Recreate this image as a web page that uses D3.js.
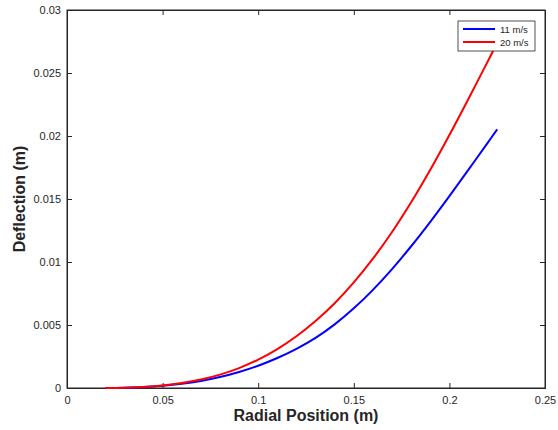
<!DOCTYPE html>
<html>
<head>
<meta charset="utf-8">
<script src="https://cdn.jsdelivr.net/npm/d3@7"></script>
<style>
  body { margin: 0; background: #fff; }
  text { font-family: "Liberation Sans", Arial, sans-serif; fill: #262626; }
</style>
</head>
<body>
<svg width="558" height="430"></svg>
<script>
// radial positions (m)
const radius = [0.02, 0.03, 0.04, 0.05, 0.06, 0.07, 0.08, 0.09, 0.10, 0.11, 0.12,
  0.13, 0.14, 0.15, 0.16, 0.17, 0.18, 0.19, 0.20, 0.21, 0.22, 0.225];
// deflection (m) per wind speed
const defl11 = [0, 0.00002, 0.00007, 0.00017, 0.00033, 0.00056, 0.00087, 0.00127, 0.00177, 0.00238, 0.00311,
  0.00398, 0.00505, 0.00632, 0.00779, 0.00944, 0.01125, 0.01319, 0.01523, 0.01733, 0.01946, 0.02053];
const defl20 = [0, 0.00002, 0.00008, 0.0002, 0.00039, 0.00067, 0.00106, 0.00158, 0.00225, 0.00309, 0.00411,
  0.00532, 0.00673, 0.00838, 0.01026, 0.01238, 0.01474, 0.01732, 0.02008, 0.02296, 0.0259, 0.02738];
const seriesNames = ["11 m/s", "20 m/s"];
const seriesColors = ["#0000ff", "#ff0000"];
const xTicks = [0, 0.05, 0.1, 0.15, 0.2, 0.25];
const yTicks = [0, 0.005, 0.01, 0.015, 0.02, 0.025, 0.03];

const svg = d3.select("svg");
const plotL = 67, plotR = 545, plotT = 10, plotB = 388;

const x = d3.scaleLinear().domain([0, 0.25]).range([plotL, plotR]);
const y = d3.scaleLinear().domain([0, 0.03]).range([plotB, plotT]);

// box
svg.append("rect")
  .attr("x", plotL).attr("y", plotT)
  .attr("width", plotR - plotL).attr("height", plotB - plotT)
  .attr("fill", "none").attr("stroke", "#262626").attr("stroke-width", 1);

// axes, ticks inward
svg.append("g").attr("transform", `translate(0,${plotB})`)
  .call(d3.axisBottom(x).tickValues(xTicks).tickSize(-5).tickPadding(8).tickFormat(d3.format("")));
svg.append("g").attr("transform", `translate(${plotL},0)`)
  .call(d3.axisLeft(y).tickValues(yTicks).tickSize(-5).tickPadding(6).tickFormat(d3.format("")));
svg.append("g").attr("transform", `translate(0,${plotT})`)
  .call(d3.axisTop(x).tickValues(xTicks).tickSize(-5).tickFormat(""));
svg.append("g").attr("transform", `translate(${plotR},0)`)
  .call(d3.axisRight(y).tickValues(yTicks).tickSize(-5).tickFormat(""));

svg.selectAll(".domain").attr("stroke", "#262626");
svg.selectAll(".tick line").attr("stroke", "#262626");
svg.selectAll(".tick text").attr("font-size", 11).attr("fill", "#262626")
  .style("font-family", "Liberation Sans, Arial, sans-serif");

// curves
const line = d3.line().x(d => x(d[0])).y(d => y(d[1])).curve(d3.curveCatmullRom.alpha(0.5));
[defl11, defl20].forEach((vals, i) => {
  svg.append("path")
    .datum(radius.map((r, j) => [r, vals[j]]))
    .attr("d", line)
    .attr("fill", "none")
    .attr("stroke", seriesColors[i])
    .attr("stroke-width", 2);
});

// axis labels
svg.append("text")
  .attr("x", (plotL + plotR) / 2).attr("y", 421)
  .attr("text-anchor", "middle")
  .attr("font-size", 16).attr("font-weight", "bold")
  .text("Radial Position (m)");
svg.append("text")
  .attr("transform", `translate(24.5,${(plotT + plotB) / 2}) rotate(-90)`)
  .attr("text-anchor", "middle")
  .attr("font-size", 16).attr("font-weight", "bold")
  .text("Deflection (m)");

// legend
const legend = svg.append("g");
legend.append("rect")
  .attr("x", 458).attr("y", 21).attr("width", 77).attr("height", 30)
  .attr("fill", "#fff").attr("stroke", "#262626").attr("stroke-width", 0.8);
seriesNames.forEach((name, i) => {
  const ly = 29 + i * 13;
  legend.append("line")
    .attr("x1", 463).attr("x2", 495).attr("y1", ly).attr("y2", ly)
    .attr("stroke", seriesColors[i]).attr("stroke-width", 2);
  legend.append("text")
    .attr("x", 500).attr("y", ly + 3.5)
    .attr("font-size", 9.5)
    .text(name);
});
</script>
</body>
</html>
